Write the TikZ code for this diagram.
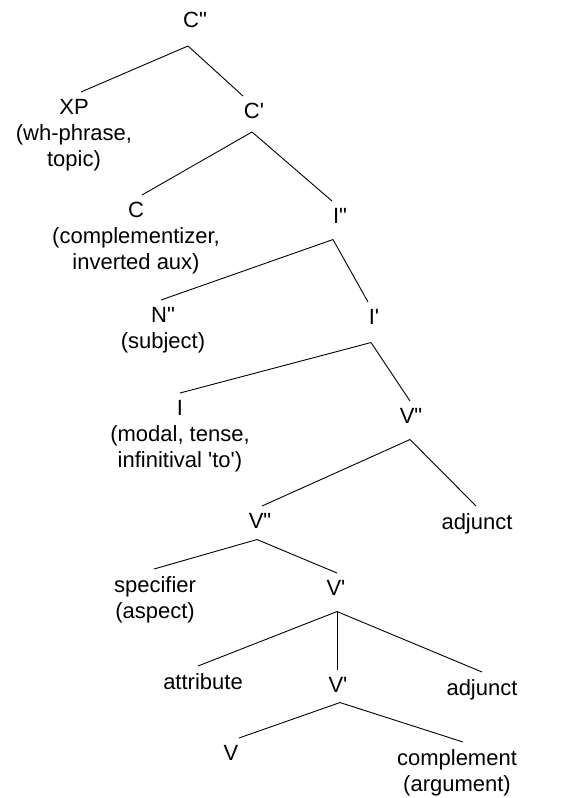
\documentclass[tikz,border=0pt]{standalone}
\usepackage{fontspec}
\setmainfont{Liberation Sans}
\usepackage{tikz}
\newcommand{\pri}{\textquotesingle}
\newcommand{\dpri}{\textquotedbl}
\tikzset{
  lab/.style={anchor=north, inner sep=0pt, align=center, font=\fontsize{22}{26}\selectfont},
  branch/.style={draw=black, line width=0.9pt},
}
\begin{document}
\begin{tikzpicture}[x=1pt,y=-1pt]
\useasboundingbox (0,0) rectangle (576,798);
% labels, placed at the top of their first line
\node[lab] (cpp)  at (195,12)  {C\dpri};
\node[lab] (xp)   at (74,99)   {XP\\(wh-phrase,\\topic)};
\node[lab] (cp)   at (254,103) {C\pri};
\node[lab] (c)    at (136,202) {C\\(complementizer,\\inverted aux)};
\node[lab] (ipp)  at (340,208) {I\dpri};
\node[lab] (npp)  at (163,307) {N\dpri\\(subject)};
\node[lab] (ip)   at (374,309) {I\pri};
\node[lab] (i)    at (180,400) {I\\(modal, tense,\\infinitival \pri to\pri)};
\node[lab] (vpp)  at (411,408) {V\dpri};
\node[lab] (vppb) at (260,513) {V\dpri};
\node[lab] (adja) at (477,513) {adjunct};
\node[lab] (spec) at (155,576) {specifier\\(aspect)};
\node[lab] (vp)   at (336,580) {V\pri};
\node[lab] (attr) at (203,673) {attribute};
\node[lab] (vpb)  at (338,677) {V\pri};
\node[lab] (adjb) at (482,679) {adjunct};
\node[lab] (v)    at (231,745) {V};
\node[lab] (comp) at (457,749) {complement\\(argument)};
% branches: parent/dx/dy/child/dx
\foreach \p/\px/\py/\c/\cx in {
    cpp/-7/18/xp/7, cpp/-7/18/cp/-11,
    cp/-2/13/c/6, cp/-2/13/ipp/-8,
    ipp/-7/16/npp/-2, ipp/-7/16/ip/-6,
    ip/-3/18/i/0, ip/-3/18/vpp/-1,
    vpp/-1/16/vppb/2, vpp/-1/16/adja/-1,
    vppb/-3/11/spec/-1, vppb/-3/11/vp/1,
    vp/1/16/attr/-5, vp/1/16/vpb/-1, vp/1/16/adjb/0,
    vpb/2/10/v/8, vpb/2/10/comp/6}
  \draw[branch] ([xshift=\px pt,yshift=-\py pt]\p.south) -- ([xshift=\cx pt,yshift=7pt]\c.north);
\end{tikzpicture}
\end{document}
